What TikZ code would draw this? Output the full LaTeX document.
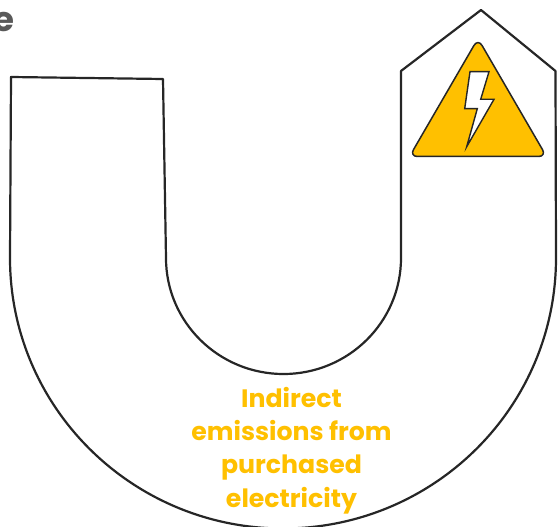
\documentclass[tikz,border=0pt]{standalone}
\usepackage{fontspec}
\setmainfont{Poppins}
\definecolor{amber}{HTML}{FFC000}
\definecolor{outline}{HTML}{262626}
\definecolor{headgray}{HTML}{595959}
\tikzset{
  ushape/.style={draw=outline,line width=2.2pt,line join=round,fill=white},
  caption/.style={text=amber,font=\fontsize{25.2}{25.2}\selectfont\bfseries,anchor=base,inner sep=0pt},
  heading/.style={text=headgray,font=\fontsize{34}{34}\selectfont\bfseries,anchor=base east,inner sep=0pt},
}
\begin{document}
\begin{tikzpicture}[x=1pt,y=-1pt]
\useasboundingbox (0,0) rectangle (558,527);
\clip (0,0) rectangle (558,527);
\node[heading] (head) at (14.5,32) {e};
\draw[ushape] (11,77) -- (163,79) -- (166,258)
  arc[start angle=180,end angle=360,x radius=117.5,y radius=-116] -- (401,71) -- (481,10) -- (555.5,71) -- (556,258)
  arc[start angle=0,end angle=180,x radius=273,y radius=270.5] -- cycle;
\draw[draw=outline,line width=1.5pt,fill=amber,rounded corners=8pt,line join=round]
  (478,38.5) -- (546.5,156.5) -- (409.5,156.5) -- cycle;
\draw[draw=outline,line width=1.4pt,fill=white,line join=miter]
  (470,71.7) -- (489,71.7) -- (480.7,99.3) -- (494,99.3) -- (466.7,146.7) -- (477.3,108.7) -- (464.7,108.7) -- cycle;
\node[caption] (l1) at (291.5,407) {Indirect};
\node[caption] (l2) at (291.5,440) {emissions from};
\node[caption] (l3) at (291.5,473) {purchased};
\node[caption] (l4) at (291.5,507) {electricity};
\end{tikzpicture}
\end{document}
